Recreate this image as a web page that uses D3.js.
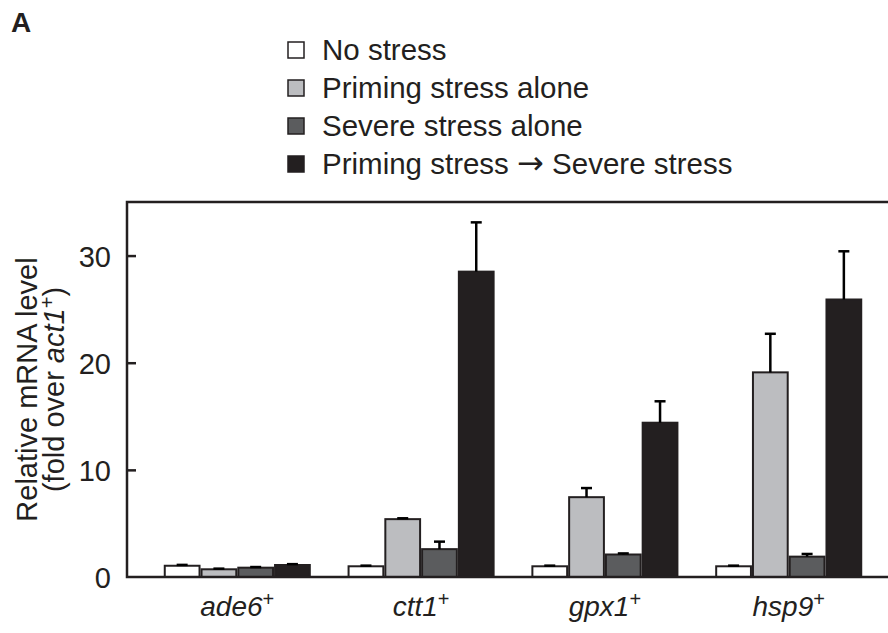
<!DOCTYPE html>
<html>
<head>
<meta charset="utf-8">
<script src="https://cdn.jsdelivr.net/npm/d3@7"></script>
<style>
  body { margin: 0; background: #fff; }
  text { font-family: "Liberation Sans", Arial, sans-serif; fill: #231f20; }
</style>
</head>
<body>
<script>
// data
var genes = ["ade6", "ctt1", "gpx1", "hsp9"]
var seriesNames = ["No stress", "Priming stress alone", "Severe stress alone", "Priming stress \u2192 Severe stress"]
var noStress = [1.05, 1.0, 1.0, 1.0]
var noStressErr = [0.08, 0.06, 0.06, 0.06]
var priming = [0.72, 5.4, 7.45, 19.1]
var primingErr = [0.06, 0.08, 0.85, 3.6]
var severe = [0.87, 2.6, 2.1, 1.9]
var severeErr = [0.06, 0.7, 0.1, 0.25]
var primedSevere = [1.12, 28.5, 14.4, 25.9]
var primedSevereErr = [0.08, 4.6, 2.0, 4.5]
var yTicks = [0, 10, 20, 30]

var colors = ["#ffffff", "#bcbdc0", "#5b5c5e", "#231f20"]
var ink = "#231f20"

var width = 888, height = 633
var padLeft = 127, padTop = 202, padBottom = 577

var values = [noStress, priming, severe, primedSevere]
var errs = [noStressErr, primingErr, severeErr, primedSevereErr]

var svg = d3.select("body").append("svg")
  .attr("width", width)
  .attr("height", height)

var x0 = d3.scaleBand().domain(genes).range([padLeft, 899]).paddingInner(0.2).paddingOuter(0.2)
var x1 = d3.scaleBand().domain(d3.range(4)).range([0, x0.bandwidth()])
var y = d3.scaleLinear().domain([0, 35]).range([padBottom, padTop])

// panel letter
svg.append("text").attr("x", 11).attr("y", 32)
  .style("font-size", "28px").style("font-weight", "bold").text("A")

// legend
var leg = svg.append("g").attr("transform", "translate(288,42)")
seriesNames.forEach(function(name, i) {
  var g = leg.append("g").attr("transform", "translate(0," + (i * 38) + ")")
  g.append("rect").attr("width", 16).attr("height", 16)
    .attr("fill", colors[i]).attr("stroke", ink).attr("stroke-width", 1.5)
  var t = g.append("text").attr("x", 34).attr("y", 18)
    .style("font-size", "29.5px")
  var parts = name.split("\u2192")
  t.append("tspan").text(parts[0])
  if (parts.length > 1) {
    t.append("tspan").style("font-family", "'DejaVu Sans'").style("font-size", "32px").text("\u2192")
    t.append("tspan").text(parts[1])
  }
})

// bars
var groups = svg.append("g").selectAll("g")
  .data(genes).enter().append("g")
  .attr("transform", function(d) { return "translate(" + x0(d) + ",0)" })

function rows(d, gi) {
  return values.map(function(v, si) { return {s: si, v: v[gi], e: errs[si][gi]} })
}

groups.selectAll("rect")
  .data(rows)
  .enter().append("rect")
  .attr("x", function(d) { return x1(d.s) + 1 })
  .attr("width", x1.bandwidth() - 2)
  .attr("y", function(d) { return y(d.v) })
  .attr("height", function(d) { return y(0) - y(d.v) })
  .attr("fill", function(d) { return colors[d.s] })
  .attr("stroke", ink).attr("stroke-width", 2)

// error bars (upper only)
var eb = groups.selectAll("g.err")
  .data(rows)
  .enter().append("g").attr("class", "err")
eb.append("line")
  .attr("x1", function(d) { return x1(d.s) + x1.bandwidth() / 2 })
  .attr("x2", function(d) { return x1(d.s) + x1.bandwidth() / 2 })
  .attr("y1", function(d) { return y(d.v) })
  .attr("y2", function(d) { return y(d.v + d.e) })
  .attr("stroke", "#000").attr("stroke-width", 2.5)
eb.append("line")
  .attr("x1", function(d) { return x1(d.s) + x1.bandwidth() / 2 - 5.5 })
  .attr("x2", function(d) { return x1(d.s) + x1.bandwidth() / 2 + 5.5 })
  .attr("y1", function(d) { return y(d.v + d.e) })
  .attr("y2", function(d) { return y(d.v + d.e) })
  .attr("stroke", "#000").attr("stroke-width", 2.5)

// frame: left axis, top and bottom lines
svg.append("path")
  .attr("d", "M" + width + "," + padTop + "H" + padLeft + "V" + padBottom + "H" + width)
  .attr("fill", "none").attr("stroke", ink).attr("stroke-width", 2.5)

var yAxis = d3.axisLeft(y).tickValues(yTicks).tickSize(-9).tickPadding(17)
var ya = svg.append("g").attr("transform", "translate(" + padLeft + ",0)").call(yAxis)
ya.select(".domain").remove()
ya.selectAll(".tick line").attr("stroke", ink).attr("stroke-width", 2.5)
  .filter(function(d) { return d === 0 }).remove()
ya.selectAll(".tick text").style("font-size", "29px").attr("fill", ink)
  .attr("x", -16).attr("dy", "0.36em")

// y label
var yl = svg.append("g").attr("transform", "translate(0," + ((padTop + padBottom) / 2) + ") rotate(-90)")
yl.append("text").attr("x", 0).attr("y", 37).attr("text-anchor", "middle")
  .style("font-size", "29px").text("Relative mRNA level")
var l2 = yl.append("text").attr("x", 0).attr("y", 64).attr("text-anchor", "middle")
  .style("font-size", "29px")
l2.append("tspan").text("(fold over ")
l2.append("tspan").style("font-style", "italic").text("act1")
l2.append("tspan").attr("dy", -10).style("font-size", "20px").text("+")
l2.append("tspan").attr("dy", 10).text(")")

// x labels
var xl = svg.append("g").selectAll("text")
  .data(genes).enter().append("text")
  .attr("x", function(d) { return x0(d) + x0.bandwidth() / 2 })
  .attr("y", 616).attr("text-anchor", "middle")
  .style("font-size", "28px")
xl.append("tspan").style("font-style", "italic").text(function(d) { return d })
xl.append("tspan").attr("dy", -10).style("font-size", "20px").text("+")
</script>
</body>
</html>
